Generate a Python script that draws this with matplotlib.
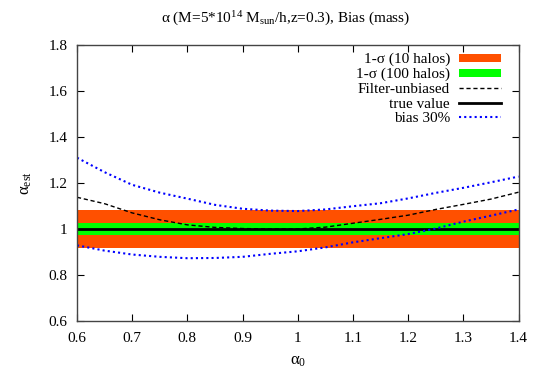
import numpy as np
import matplotlib
matplotlib.use('Agg')
import matplotlib.pyplot as plt

plt.rcParams['font.family'] = ['Liberation Serif', 'DejaVu Serif']
plt.rcParams['mathtext.fontset'] = 'custom'
plt.rcParams['mathtext.rm'] = 'Liberation Serif'
plt.rcParams['mathtext.it'] = 'Liberation Serif:italic'

# values
alpha0 = [0.6, 0.65, 0.7, 0.75, 0.8, 0.85, 0.9, 0.95, 1.0,
          1.05, 1.1, 1.15, 1.2, 1.25, 1.3, 1.35, 1.4]
filter_unbiased = [1.138, 1.11, 1.07, 1.04, 1.018, 1.007, 1.002, 1.0, 1.0,
                   1.008, 1.025, 1.042, 1.06, 1.085, 1.107, 1.13, 1.16]
bias_upper = [1.31, 1.247, 1.192, 1.158, 1.132, 1.105, 1.088, 1.08, 1.078,
              1.085, 1.099, 1.112, 1.133, 1.157, 1.179, 1.203, 1.228]
bias_lower = [0.929, 0.906, 0.889, 0.879, 0.873, 0.874, 0.879, 0.892, 0.903,
              0.92, 0.942, 0.96, 0.978, 1.002, 1.032, 1.058, 1.085]
true_value = 1.0
sigma_10 = 0.083
sigma_100 = 0.026

xticks = [0.6, 0.7, 0.8, 0.9, 1.0, 1.1, 1.2, 1.3, 1.4]
xticklabels = ['0.6', '0.7', '0.8', '0.9', '1', '1.1', '1.2', '1.3', '1.4']
yticks = [0.6, 0.8, 1.0, 1.2, 1.4, 1.6, 1.8]
yticklabels = ['0.6', '0.8', '1', '1.2', '1.4', '1.6', '1.8']

fig = plt.figure(figsize=(5.45, 3.82), dpi=100)
ax = fig.add_axes([77 / 545, 1 - 321 / 382, 441.5 / 545, 276 / 382])

x = np.array(alpha0)
ax.fill_between([0.6, 1.4], true_value - sigma_10, true_value + sigma_10,
                color='#ff5000', lw=0, label='1-σ (10 halos)')
ax.fill_between([0.6, 1.4], true_value - sigma_100, true_value + sigma_100,
                color='#00ff00', lw=0, label='1-σ (100 halos)')
ax.plot(x, filter_unbiased, color='black', ls=(0, (3, 2)), lw=1.0,
        label='Filter-unbiased')
ax.plot([0.6, 1.4], [true_value, true_value], color='black', lw=2.0,
        label='true value')
ax.plot(x, bias_upper, color='#0000ff', ls=(0, (1, 1.5)), lw=1.5,
        label='bias 30%')
ax.plot(x, bias_lower, color='#0000ff', ls=(0, (1, 1.5)), lw=1.5)

ax.set_xlim(0.6, 1.4)
ax.set_ylim(0.6, 1.8)
ax.set_xticks(xticks)
ax.set_xticklabels(xticklabels)
ax.set_yticks(yticks)
ax.set_yticklabels(yticklabels)
ax.tick_params(direction='in', top=True, right=True, length=5, labelsize=11)
ax.tick_params(axis='x', pad=8)
ax.tick_params(axis='y', pad=7)
for s in ax.spines.values():
    s.set_color('#444444')
    s.set_linewidth(1.0)

ax.set_xlabel('α$_{0}$', fontsize=12, labelpad=6)
ax.set_ylabel('α$_{\\mathrm{est}}$', fontsize=12, labelpad=10)
fig.text(286 / 545, 1 - 19 / 382,
         'α (M=5*10$^{\\mathrm{14}}$ M$_{\\mathrm{sun}}$/h,z=0.3), Bias (mass)',
         ha='center', va='center', fontsize=11)

ax.legend(loc='upper right', bbox_to_anchor=(1 - 18 / 441.5, 1 - 8 / 276),
          frameon=False, markerfirst=False, fontsize=11, handlelength=2.7,
          handleheight=0.5, labelspacing=0.1, borderpad=0, borderaxespad=0,
          handletextpad=0.6)

fig.savefig('out.png', dpi=100)
